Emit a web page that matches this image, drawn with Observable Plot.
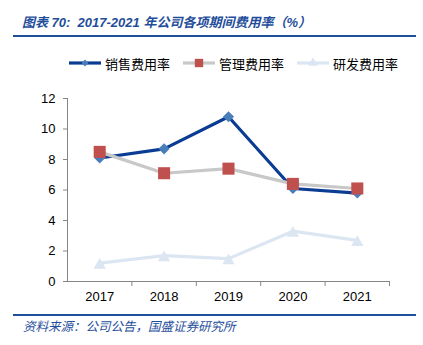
<!DOCTYPE html>
<html><head><meta charset="utf-8">
<script src="https://cdn.jsdelivr.net/npm/d3@7"></script>
<script src="https://cdn.jsdelivr.net/npm/@observablehq/plot@0.6"></script>
<style>
html,body{margin:0;padding:0;background:#fff;}
#wrap{position:relative;width:423px;height:345px;overflow:hidden;font-family:"Liberation Sans","Noto Sans CJK SC",sans-serif;}
.title{position:absolute;left:22px;top:12px;font-size:13px;font-style:italic;font-weight:bold;color:#1F4E9B;font-family:"Liberation Sans","Noto Sans CJK SC",sans-serif;white-space:nowrap;}
.rule{position:absolute;left:13px;width:403px;height:2px;background:#1F4E9B;}
.caption{position:absolute;left:23px;top:316px;font-size:12.5px;font-style:italic;color:#1F4E9B;font-family:"Noto Sans CJK SC",sans-serif;white-space:nowrap;}
.leg{position:absolute;top:54px;height:18px;display:flex;align-items:center;font-size:13px;font-family:"Noto Sans CJK SC",sans-serif;color:#000;white-space:nowrap;}
.leg svg{margin-right:4px;}
#chart{position:absolute;left:0;top:80px;}
</style></head>
<body><div id="wrap">
<div class="title">图表 70:&nbsp; 2017-2021 年公司各项期间费用率（%）</div>
<div class="rule" style="top:35px"></div>
<div id="legend"></div>
<div id="chart"></div>
<div class="rule" style="top:314px"></div>
<div class="caption">资料来源：公司公告，国盛证券研究所</div>
</div>
<script>
const years = [2017, 2018, 2019, 2020, 2021];
const sales = [8.1, 8.7, 10.8, 6.1, 5.8];
const admin = [8.5, 7.1, 7.4, 6.4, 6.1];
const rnd = [1.2, 1.7, 1.5, 3.3, 2.7];
const seriesNames = ["销售费用率", "管理费用率", "研发费用率"];
const yTicks = [0, 2, 4, 6, 8, 10, 12];
const xBoundaries = [2017.5, 2018.5, 2019.5, 2020.5, 2021.5];

const styles = [
  {line: "#0B3C93", marker: "#4A7EBB", symbol: "diamond2", r: 5},
  {line: "#C8C8C8", marker: "#C0504D", symbol: "square", r: 6.8},
  {line: "#DCE6F2", marker: "#DCE6F2", symbol: "triangle", r: 4.6}
];
const allSeries = [sales, admin, rnd];
const data = [];
allSeries.forEach((vals, i) => vals.forEach((v, j) => data.push({year: years[j], value: v, series: seriesNames[i]})));

const marks = [
  Plot.ruleX([2016.5], {stroke: "#868686", strokeWidth: 1}),
  Plot.ruleY([0], {stroke: "#868686", strokeWidth: 1}),
  Plot.axisY({ticks: yTicks, tickSize: 4, tickPadding: 8, label: null, fontSize: 13, stroke: "#868686"}),
  Plot.axisX({ticks: xBoundaries, tickSize: 5, tickFormat: () => "", label: null, stroke: "#868686"}),
  Plot.axisX({ticks: years, tickSize: 0, tickPadding: 10, tickFormat: d => String(d), label: null, fontSize: 13})
];
seriesNames.forEach((name, i) => {
  const d = data.filter(e => e.series === name);
  const s = styles[i];
  marks.push(Plot.line(d, {x: "year", y: "value", stroke: s.line, strokeWidth: 3.2}));
  marks.push(Plot.dot(d, {x: "year", y: "value", symbol: () => s.symbol, r: s.r, fill: s.marker, stroke: "none", dy: s.symbol === "triangle" ? 2 : 0}));
});

const chart = Plot.plot({
  width: 423, height: 230,
  marginTop: 18, marginBottom: 29, marginLeft: 67, marginRight: 34,
  x: {domain: [2016.5, 2021.5]},
  y: {domain: [0, 12]},
  style: {fontFamily: "Liberation Sans, sans-serif", fontSize: "13px", color: "#000", background: "transparent"},
  marks
});
document.getElementById("chart").appendChild(chart);

// legend
const legLeft = [69, 183, 297];
const legend = document.getElementById("legend");
seriesNames.forEach((name, i) => {
  const s = styles[i];
  const div = document.createElement("div");
  div.className = "leg";
  div.style.left = legLeft[i] + "px";
  const svg = d3.create("svg").attr("width", 32).attr("height", 18);
  svg.append("line").attr("x1", 0).attr("x2", 32).attr("y1", 9).attr("y2", 9).attr("stroke", s.line).attr("stroke-width", 3.2);
  const size = {diamond2: 30, square: 70, triangle: 40}[s.symbol];
  const sym = {diamond2: d3.symbolDiamond2, square: d3.symbolSquare, triangle: d3.symbolTriangle}[s.symbol];
  svg.append("path").attr("d", d3.symbol(sym, size)()).attr("transform", "translate(16,9)").attr("fill", s.marker);
  div.appendChild(svg.node());
  const t = document.createElement("span");
  t.textContent = name;
  div.appendChild(t);
  legend.appendChild(div);
});
</script>
</body></html>
